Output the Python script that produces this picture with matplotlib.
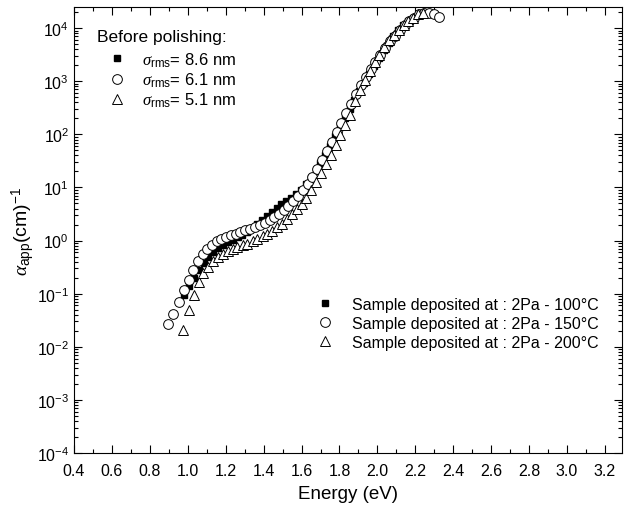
import matplotlib
matplotlib.use("Agg")
import matplotlib.pyplot as plt
from matplotlib.ticker import MultipleLocator, LogLocator, NullFormatter, FormatStrFormatter

plt.rcParams['font.family'] = ['Liberation Sans', 'DejaVu Sans']
plt.rcParams['mathtext.fontset'] = 'custom'
plt.rcParams['mathtext.rm'] = 'Liberation Sans'
plt.rcParams['mathtext.it'] = 'Liberation Serif:italic'
plt.rcParams['mathtext.bf'] = 'Liberation Sans:bold'

# sample deposited at 2Pa - 100 C (sigma_rms = 8.6 nm), log10 of alpha
e_100 = [0.980, 1.006, 1.032, 1.057, 1.083, 1.109, 1.134, 1.160, 1.186, 1.211,
         1.237, 1.263, 1.288, 1.314, 1.340, 1.365, 1.391, 1.417, 1.443, 1.468,
         1.494, 1.520, 1.545, 1.571, 1.597, 1.622, 1.648, 1.674, 1.699, 1.725,
         1.751, 1.776, 1.802, 1.828, 1.853, 1.879, 1.905, 1.930, 1.956, 1.982,
         2.007, 2.033, 2.059, 2.084, 2.110, 2.136, 2.161, 2.187]
log_a_100 = [-1.03, -0.86, -0.70, -0.55, -0.42, -0.31, -0.22, -0.14, -0.08, -0.03,
             0.02, 0.06, 0.11, 0.17, 0.24, 0.31, 0.39, 0.46, 0.54, 0.62,
             0.68, 0.74, 0.80, 0.87, 0.96, 1.06, 1.18, 1.31, 1.46, 1.62,
             1.79, 1.96, 2.13, 2.30, 2.47, 2.64, 2.81, 2.97, 3.13, 3.28,
             3.43, 3.58, 3.72, 3.85, 3.96, 4.06, 4.13, 4.19]

# 2Pa - 150 C (sigma_rms = 6.1 nm)
e_150 = [0.897, 0.924, 0.955, 0.982, 1.008, 1.029, 1.052, 1.079, 1.103, 1.128,
         1.153, 1.177, 1.200, 1.228, 1.253, 1.277, 1.302, 1.328, 1.353, 1.381,
         1.407, 1.432, 1.456, 1.480, 1.505, 1.530, 1.556, 1.581, 1.607, 1.632,
         1.657, 1.683, 1.708, 1.734, 1.759, 1.785, 1.810, 1.836, 1.862, 1.887,
         1.913, 1.938, 1.964, 1.990, 2.015, 2.041, 2.066, 2.092, 2.117, 2.143,
         2.168, 2.194, 2.219, 2.245, 2.270, 2.297, 2.323]
log_a_150 = [-1.57, -1.38, -1.16, -0.94, -0.74, -0.56, -0.39, -0.26, -0.15, -0.08,
             -0.01, 0.03, 0.06, 0.10, 0.13, 0.16, 0.19, 0.22, 0.25, 0.29,
             0.33, 0.38, 0.44, 0.50, 0.57, 0.65, 0.74, 0.84, 0.95, 1.07,
             1.20, 1.35, 1.51, 1.68, 1.86, 2.04, 2.22, 2.40, 2.58, 2.76,
             2.93, 3.08, 3.23, 3.37, 3.50, 3.63, 3.75, 3.86, 3.96, 4.05,
             4.13, 4.20, 4.26, 4.29, 4.29, 4.27, 4.21]

# 2Pa - 200 C (sigma_rms = 5.1 nm)
e_200 = [0.977, 1.008, 1.033, 1.061, 1.082, 1.108, 1.135, 1.161, 1.187, 1.214,
         1.240, 1.261, 1.290, 1.314, 1.342, 1.367, 1.395, 1.420, 1.446, 1.472,
         1.497, 1.523, 1.549, 1.574, 1.600, 1.626, 1.651, 1.677, 1.703, 1.728,
         1.754, 1.780, 1.805, 1.831, 1.857, 1.882, 1.908, 1.934, 1.959, 1.985,
         2.010, 2.036, 2.062, 2.087, 2.113, 2.139, 2.164, 2.190, 2.216, 2.241]
log_a_200 = [-1.69, -1.315, -1.03, -0.78, -0.62, -0.50, -0.39, -0.31, -0.245, -0.19,
             -0.15, -0.12, -0.09, -0.056, -0.013, 0.03, 0.08, 0.12, 0.18, 0.25,
             0.32, 0.41, 0.50, 0.59, 0.69, 0.80, 0.95, 1.10, 1.27, 1.45,
             1.62, 1.80, 1.99, 2.18, 2.37, 2.62, 2.83, 3.02, 3.19, 3.36,
             3.50, 3.64, 3.77, 3.87, 3.97, 4.05, 4.13, 4.20, 4.26, 4.28]

sample_labels = ["Sample deposited at : 2Pa - 100°C",
                 "Sample deposited at : 2Pa - 150°C",
                 "Sample deposited at : 2Pa - 200°C"]
rough_labels = [r"$\sigma_{\rm rms}$= 8.6 nm",
                r"$\sigma_{\rm rms}$= 6.1 nm",
                r"$\sigma_{\rm rms}$= 5.1 nm"]

fig = plt.figure(figsize=(6.25, 5.1), dpi=100)
ax = fig.add_axes([0.1184, 0.1098, 0.8768, 0.8745])

h1, = ax.plot(e_100, [10 ** v for v in log_a_100], ls="none", marker="s", ms=5,
              mfc="black", mec="black", zorder=3)
h2, = ax.plot(e_150, [10 ** v for v in log_a_150], ls="none", marker="o", ms=7,
              mfc="white", mec="black", mew=0.7, zorder=4)
h3, = ax.plot(e_200, [10 ** v for v in log_a_200], ls="none", marker="^", ms=7.5,
              mfc="white", mec="black", mew=0.7, zorder=5)

ax.set_yscale("log")
ax.set_xlim(0.4, 3.29)
ax.set_ylim(1e-4, 2.5e4)
ax.xaxis.set_major_locator(MultipleLocator(0.2))
ax.xaxis.set_minor_locator(MultipleLocator(0.1))
ax.xaxis.set_major_formatter(FormatStrFormatter("%.1f"))
ax.yaxis.set_major_locator(LogLocator(base=10, numticks=20))
ax.yaxis.set_minor_locator(LogLocator(base=10, subs=range(2, 10), numticks=20))
ax.yaxis.set_minor_formatter(NullFormatter())
ax.tick_params(which="both", direction="in", top=True, right=True, labelsize=11.5, width=0.8)
ax.tick_params(which="major", length=6)
ax.tick_params(which="minor", length=3)
ax.tick_params(axis="x", which="major", pad=7)
for s in ax.spines.values():
    s.set_linewidth(0.8)

ax.set_xlabel("Energy (eV)", fontsize=13.5, labelpad=5)
ax.set_ylabel(r"$\alpha_{\rm app}$(cm)$^{-1}$", fontsize=14, labelpad=0)

ax.text(0.042, 0.933, "Before polishing:", transform=ax.transAxes, fontsize=12.5, va="center")
leg1 = ax.legend([h1, h2, h3], rough_labels, loc="upper left", bbox_to_anchor=(0.064, 0.903),
                 frameon=False, fontsize=12, handlelength=1.0, handletextpad=1.0,
                 labelspacing=0.12, borderpad=0, borderaxespad=0)
ax.add_artist(leg1)
ax.legend([h1, h2, h3], sample_labels, loc="upper left", bbox_to_anchor=(0.443, 0.35),
          frameon=False, fontsize=11.5, handlelength=1.0, handletextpad=1.2,
          labelspacing=0.25, borderpad=0, borderaxespad=0)

fig.savefig("out.png", dpi=100)
